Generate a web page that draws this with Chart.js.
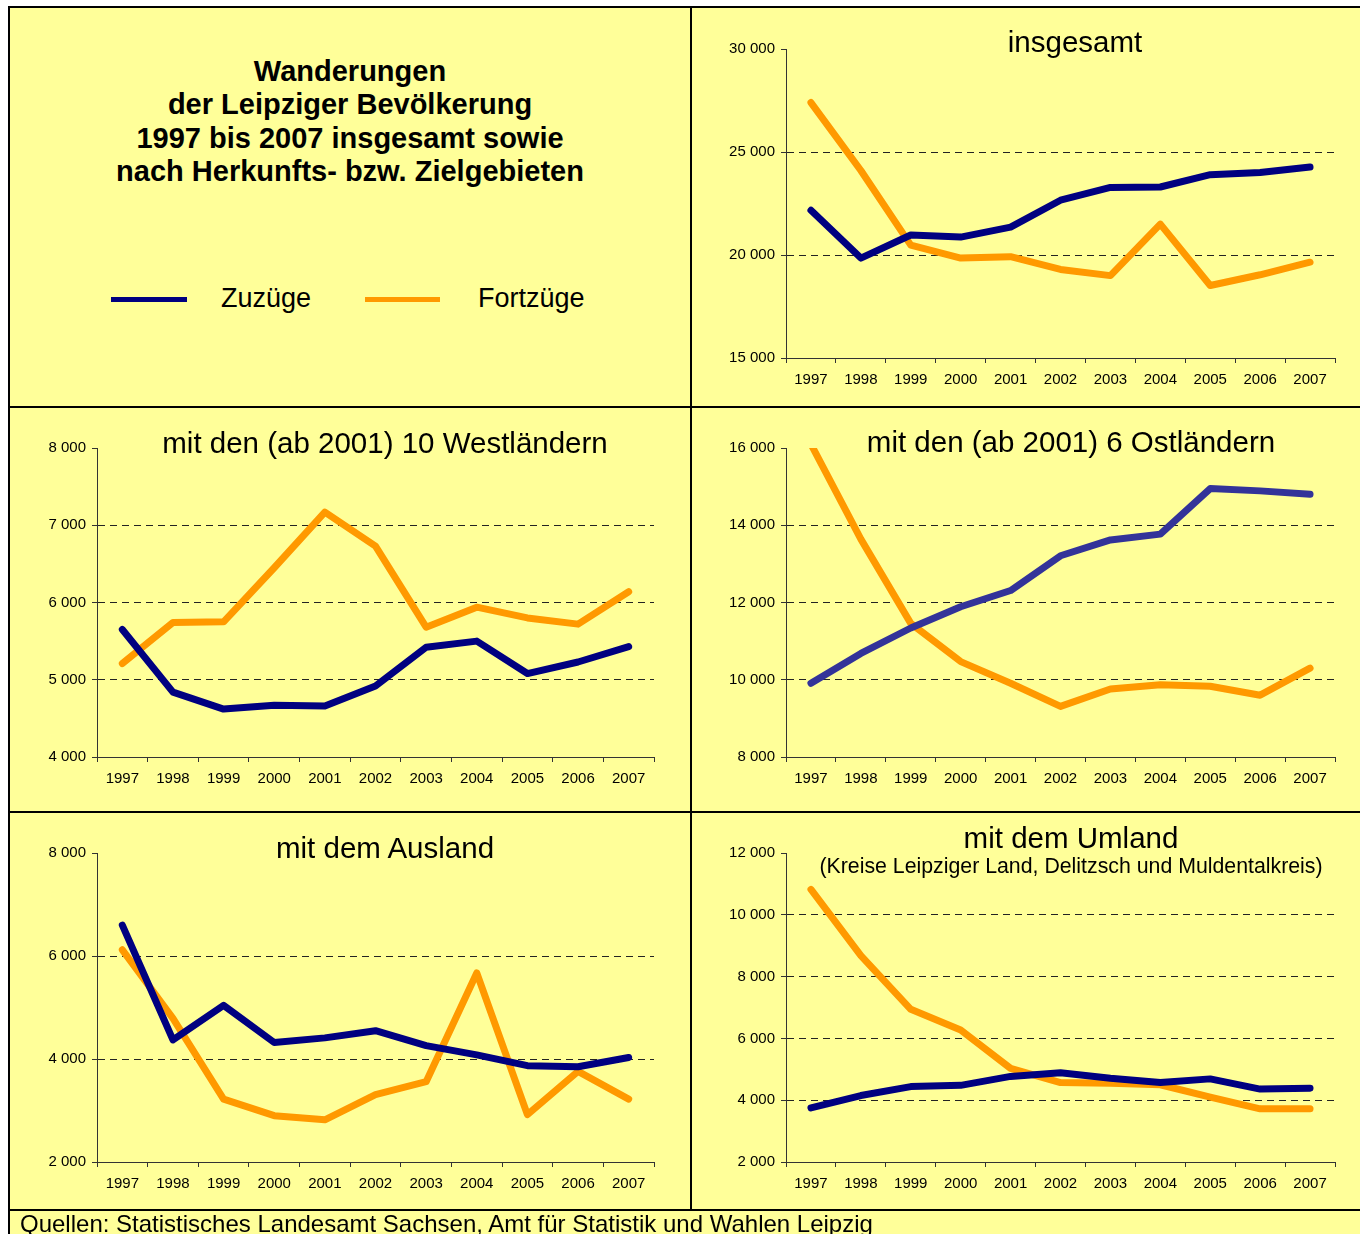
<!DOCTYPE html>
<html>
<head>
<meta charset="utf-8">
<script src="https://cdn.jsdelivr.net/npm/chart.js@4"></script>
<style>
  body { margin: 0; background: #fff; }
  #page { position: relative; width: 1360px; height: 1234px; overflow: hidden; font-family: "Liberation Sans", Arial, sans-serif; color: #000; }
  .frame { position: absolute; left: 8px; top: 6px; width: 1360px; height: 1240px; background: #ffff99; }
  .ln { position: absolute; background: #000; }
  .cv { position: absolute; }
  .t { position: absolute; white-space: nowrap; }
  .ttl { font-size: 29.5px; line-height: 29.5px; transform: translateX(-50%); }
</style>
</head>
<body>
<div id="page">
  <div class="frame"></div>

  <canvas id="cInsg" class="cv" width="649" height="364" style="left:696px;top:34px"></canvas>
  <canvas id="cWest" class="cv" width="657" height="364" style="left:7px;top:433px"></canvas>
  <canvas id="cOst" class="cv" width="649" height="364" style="left:696px;top:433px"></canvas>
  <canvas id="cAusl" class="cv" width="657" height="364" style="left:7px;top:838px"></canvas>
  <canvas id="cUml" class="cv" width="649" height="364" style="left:696px;top:838px"></canvas>

  <div class="ln" style="left:8px;top:6px;width:1360px;height:2px"></div>
  <div class="ln" style="left:8px;top:6px;width:2px;height:1240px"></div>
  <div class="ln" style="left:690px;top:6px;width:2px;height:1204px"></div>
  <div class="ln" style="left:8px;top:406px;width:1360px;height:2px"></div>
  <div class="ln" style="left:8px;top:811px;width:1360px;height:2px"></div>
  <div class="ln" style="left:8px;top:1209px;width:1360px;height:2px"></div>

  <div class="t" style="left:350px;top:55px;transform:translateX(-50%);text-align:center;font-weight:bold;font-size:29px;line-height:33.3px">
    Wanderungen<br>der Leipziger Bevölkerung<br>1997 bis 2007 insgesamt sowie<br>nach Herkunfts- bzw. Zielgebieten
  </div>
  <div class="ln" style="left:111px;top:297px;width:76px;height:5px;background:#000080"></div>
  <div class="t" style="left:221px;top:285px;font-size:27px;line-height:27px">Zuzüge</div>
  <div class="ln" style="left:365px;top:297px;width:75px;height:5px;background:#ff9900"></div>
  <div class="t" style="left:478px;top:285px;font-size:27px;line-height:27px">Fortzüge</div>

  <div class="t ttl" style="left:1075px;top:27px">insgesamt</div>
  <div class="t ttl" style="left:385px;top:428px">mit den (ab 2001) 10 Westländern</div>
  <div class="t ttl" style="left:1071px;top:427px">mit den (ab 2001) 6 Ostländern</div>
  <div class="t ttl" style="left:385px;top:833px">mit dem Ausland</div>
  <div class="t ttl" style="left:1071px;top:823px">mit dem Umland</div>
  <div class="t" style="left:1071px;top:856px;transform:translateX(-50%);font-size:21.3px;line-height:21.3px">(Kreise Leipziger Land, Delitzsch und Muldentalkreis)</div>

  <div class="t" style="left:20px;top:1212px;font-size:24px;line-height:24px">Quellen: Statistisches Landesamt Sachsen, Amt für Statistik und Wahlen Leipzig</div>
</div>

<script>
const years = ['1997', '1998', '1999', '2000', '2001', '2002', '2003', '2004', '2005', '2006', '2007'];

const zuzInsgesamt = [22170, 19850, 20970, 20870, 21350, 22660, 23280, 23300, 23900, 24000, 24270];
const fortInsgesamt = [27400, 24100, 20480, 19850, 19920, 19300, 19000, 21500, 18520, 19040, 19650];

const zuzWest = [5650, 4840, 4620, 4670, 4660, 4920, 5420, 5500, 5080, 5230, 5430];
const fortWest = [5210, 5740, 5750, 6450, 7170, 6730, 5680, 5940, 5800, 5720, 6140];

const zuzOst = [9910, 10680, 11340, 11890, 12310, 13210, 13620, 13770, 14950, 14890, 14800];
const fortOst = [16100, 13640, 11460, 10470, 9910, 9310, 9760, 9870, 9830, 9600, 10300];

const zuzAusland = [6600, 4370, 5040, 4320, 4410, 4550, 4260, 4080, 3870, 3850, 4030];
const fortAusland = [6120, 4790, 3220, 2900, 2820, 3310, 3560, 5670, 2920, 3760, 3220];

const zuzUmland = [3750, 4150, 4440, 4480, 4770, 4890, 4710, 4570, 4690, 4360, 4390];
const fortUmland = [10820, 8680, 6940, 6270, 5030, 4570, 4550, 4500, 4100, 3720, 3720];

const NAVY = '#000080';
const INDIGO = '#333399';
const ORANGE = '#ff9900';
const FONT = '"Liberation Sans", Arial, sans-serif';

Chart.defaults.font.family = FONT;
Chart.defaults.color = '#000';

function fmt(v) {
  return String(v).replace(/\B(?=(\d{3})+(?!\d))/g, ' ');
}

function line(data, color) {
  return {
    data,
    borderColor: color,
    borderWidth: 7,
    pointRadius: 0,
    tension: 0,
    fill: false,
    borderCapStyle: 'round',
    borderJoinStyle: 'round',
    clip: 0
  };
}

function panel(id, zuz, fort, min, max, step, zuzColor) {
  return new Chart(document.getElementById(id), {
    type: 'line',
    data: {
      labels: years,
      datasets: [line(zuz, zuzColor || NAVY), line(fort, ORANGE)]
    },
    options: {
      responsive: false,
      animation: false,
      layout: { padding: { left: 0, top: 10, right: 10, bottom: 0 } },
      plugins: { legend: { display: false }, tooltip: { enabled: false } },
      scales: {
        x: {
          offset: true,
          afterFit: s => { s.height = 40; },
          grid: { drawOnChartArea: false, drawTicks: true, tickLength: 5, offset: true, tickColor: '#333' },
          border: { color: '#333', width: 1 },
          ticks: { font: { size: 15 }, padding: 8, maxRotation: 0, autoSkip: false }
        },
        y: {
          min, max,
          afterFit: s => { s.width = 90; },
          grid: {
            color: c => (c.tick && c.tick.value === max) ? 'rgba(0,0,0,0)' : '#222',
            lineWidth: 1,
            tickLength: 5,
            tickColor: '#333'
          },
          border: { color: '#333', width: 1, dash: [7, 5] },
          ticks: { stepSize: step, font: { size: 15 }, padding: 6, callback: v => fmt(v) }
        }
      }
    }
  });
}

panel('cInsg', zuzInsgesamt, fortInsgesamt, 15000, 30000, 5000);
panel('cWest', zuzWest, fortWest, 4000, 8000, 1000);
panel('cOst', zuzOst, fortOst, 8000, 16000, 2000, INDIGO);
panel('cAusl', zuzAusland, fortAusland, 2000, 8000, 2000);
panel('cUml', zuzUmland, fortUmland, 2000, 12000, 2000);
</script>
</body>
</html>
